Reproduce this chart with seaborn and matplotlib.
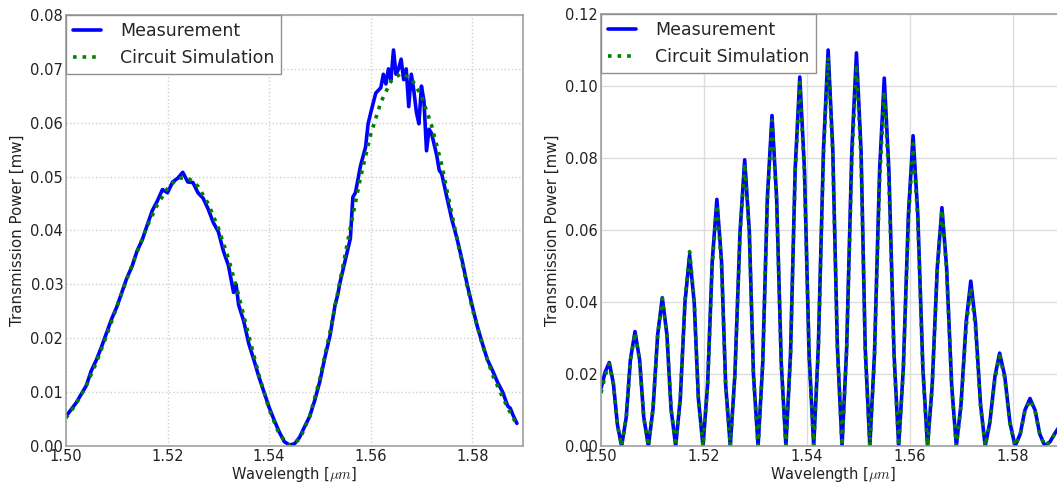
import matplotlib
matplotlib.use("Agg")
import matplotlib.pyplot as plt
import seaborn as sns

# left chart: measured curve (noisy) and circuit simulation
wl_left_meas = [
    1.500, 1.502, 1.504, 1.505, 1.506, 1.507, 1.508, 1.509, 1.510, 1.511,
    1.512, 1.513, 1.514, 1.515, 1.516, 1.517, 1.518, 1.519, 1.520, 1.521,
    1.522, 1.523, 1.524, 1.525, 1.526, 1.527, 1.528, 1.529, 1.530, 1.531,
    1.532, 1.533, 1.5335, 1.534, 1.535, 1.536, 1.537, 1.538, 1.539, 1.540,
    1.541, 1.542, 1.543, 1.544, 1.545, 1.546, 1.547, 1.548, 1.549, 1.550,
    1.551, 1.552, 1.553, 1.5535, 1.554, 1.555, 1.556, 1.5565, 1.557, 1.558,
    1.559, 1.5595, 1.560, 1.561, 1.562, 1.5625, 1.563, 1.5635, 1.564, 1.5645,
    1.565, 1.5655, 1.566, 1.5665, 1.567, 1.5675, 1.568, 1.5685, 1.569, 1.5695,
    1.570, 1.5705, 1.571, 1.5715, 1.572, 1.573, 1.5735, 1.574, 1.575, 1.576,
    1.577, 1.578, 1.579, 1.580, 1.581, 1.582, 1.583, 1.584, 1.585, 1.586,
    1.587, 1.5875, 1.588, 1.5888,
]
meas_left = [
    0.0055, 0.0080, 0.0112, 0.0140, 0.0160, 0.0184, 0.0210, 0.0236, 0.0258, 0.0285,
    0.0312, 0.0333, 0.0362, 0.0382, 0.0410, 0.0437, 0.0455, 0.0476, 0.0470, 0.0490,
    0.0497, 0.0508, 0.0490, 0.0489, 0.0470, 0.0460, 0.0440, 0.0415, 0.0398, 0.0362,
    0.0335, 0.0285, 0.0300, 0.0262, 0.0232, 0.0190, 0.0160, 0.0128, 0.0100, 0.0072,
    0.0048, 0.0026, 0.0008, 0.0002, 0.0004, 0.0016, 0.0036, 0.0055, 0.0085, 0.0120,
    0.0165, 0.0205, 0.0262, 0.0280, 0.0305, 0.0345, 0.0385, 0.0462, 0.0470, 0.0520,
    0.0555, 0.0598, 0.0618, 0.0655, 0.0665, 0.0690, 0.0672, 0.0700, 0.0680, 0.0735,
    0.0690, 0.0700, 0.0718, 0.0680, 0.0700, 0.0630, 0.0690, 0.0660, 0.0620, 0.0598,
    0.0668, 0.0640, 0.0548, 0.0588, 0.0580, 0.0540, 0.0512, 0.0505, 0.0462, 0.0420,
    0.0385, 0.0345, 0.0300, 0.0260, 0.0222, 0.0190, 0.0160, 0.0140, 0.0118, 0.0100,
    0.0074, 0.0070, 0.0058, 0.0042,
]
wl_left_sim = [
    1.500, 1.502, 1.504, 1.506, 1.508, 1.510, 1.512, 1.514, 1.516, 1.518,
    1.520, 1.522, 1.524, 1.526, 1.528, 1.530, 1.532, 1.534, 1.536, 1.538,
    1.540, 1.542, 1.544, 1.546, 1.548, 1.550, 1.552, 1.554, 1.556, 1.558,
    1.560, 1.562, 1.564, 1.566, 1.568, 1.570, 1.572, 1.574, 1.576, 1.578,
    1.580, 1.582, 1.584, 1.586, 1.588, 1.5888,
]
sim_left = [
    0.0052, 0.0078, 0.0112, 0.0155, 0.0205, 0.0258, 0.0310, 0.0360, 0.0408, 0.0448,
    0.0478, 0.0497, 0.0498, 0.0482, 0.0450, 0.0405, 0.0348, 0.0280, 0.0205, 0.0132,
    0.0068, 0.0022, 0.0001, 0.0012, 0.0055, 0.0125, 0.0212, 0.0308, 0.0405, 0.0498,
    0.0578, 0.0638, 0.0677, 0.0692, 0.0682, 0.0650, 0.0595, 0.0522, 0.0430, 0.0340,
    0.0255, 0.0188, 0.0132, 0.0090, 0.0052, 0.0042,
]

# right chart: fringes read at peaks, troughs and the points between
wl_right = [
    1.5000, 1.5008, 1.5016, 1.5024, 1.5032, 1.5040,
    1.5049, 1.5057, 1.5066, 1.5075, 1.5083, 1.5092,
    1.5101, 1.5110, 1.5119, 1.5128, 1.5136, 1.5145,
    1.5154, 1.5163, 1.5172, 1.5181, 1.5189, 1.5198,
    1.5207, 1.5216, 1.5225, 1.5234, 1.5242, 1.5251,
    1.5260, 1.5270, 1.5279, 1.5288, 1.5296, 1.5305,
    1.5314, 1.5323, 1.5332, 1.5341, 1.5350, 1.5359,
    1.5368, 1.5377, 1.5386, 1.5395, 1.5404, 1.5413,
    1.5422, 1.5432, 1.5441, 1.5450, 1.5459, 1.5468,
    1.5477, 1.5487, 1.5496, 1.5505, 1.5513, 1.5522,
    1.5531, 1.5541, 1.5550, 1.5559, 1.5569, 1.5578,
    1.5587, 1.5597, 1.5606, 1.5615, 1.5625, 1.5634,
    1.5643, 1.5653, 1.5662, 1.5671, 1.5681, 1.5690,
    1.5699, 1.5709, 1.5718, 1.5727, 1.5737, 1.5746,
    1.5755, 1.5765, 1.5774, 1.5784, 1.5794, 1.5804,
    1.5814, 1.5823, 1.5833, 1.5843, 1.5852, 1.5862,
    1.5872, 1.5880, 1.5888,
]
meas_right = [
    0.0160, 0.0205, 0.0232, 0.0174, 0.0058, 0.0000,
    0.0080, 0.0239, 0.0318, 0.0239, 0.0080, 0.0000,
    0.0103, 0.0309, 0.0412, 0.0309, 0.0103, 0.0000,
    0.0133, 0.0398, 0.0530, 0.0398, 0.0133, 0.0000,
    0.0171, 0.0514, 0.0685, 0.0514, 0.0171, 0.0000,
    0.0199, 0.0596, 0.0795, 0.0596, 0.0199, 0.0000,
    0.0230, 0.0689, 0.0918, 0.0689, 0.0230, 0.0000,
    0.0256, 0.0769, 0.1025, 0.0769, 0.0256, 0.0000,
    0.0275, 0.0825, 0.1100, 0.0825, 0.0275, 0.0000,
    0.0273, 0.0819, 0.1092, 0.0819, 0.0273, 0.0000,
    0.0256, 0.0767, 0.1022, 0.0767, 0.0256, 0.0000,
    0.0216, 0.0647, 0.0862, 0.0647, 0.0216, 0.0000,
    0.0166, 0.0497, 0.0662, 0.0497, 0.0166, 0.0000,
    0.0115, 0.0344, 0.0458, 0.0344, 0.0115, 0.0000,
    0.0065, 0.0194, 0.0258, 0.0194, 0.0065, 0.0000,
    0.0033, 0.0099, 0.0132, 0.0099, 0.0033, 0.0000,
    0.0012, 0.0032, 0.0050,
]
sim_right = [
    0.0147, 0.0195, 0.0228, 0.0171, 0.0057, 0.0000,
    0.0079, 0.0236, 0.0315, 0.0236, 0.0079, 0.0000,
    0.0103, 0.0308, 0.0410, 0.0308, 0.0103, 0.0000,
    0.0135, 0.0405, 0.0540, 0.0405, 0.0135, 0.0000,
    0.0168, 0.0503, 0.0670, 0.0503, 0.0168, 0.0000,
    0.0196, 0.0589, 0.0785, 0.0589, 0.0196, 0.0000,
    0.0226, 0.0679, 0.0905, 0.0679, 0.0226, 0.0000,
    0.0253, 0.0758, 0.1010, 0.0758, 0.0253, 0.0000,
    0.0270, 0.0810, 0.1080, 0.0810, 0.0270, 0.0000,
    0.0265, 0.0795, 0.1060, 0.0795, 0.0265, 0.0000,
    0.0246, 0.0739, 0.0985, 0.0739, 0.0246, 0.0000,
    0.0210, 0.0630, 0.0840, 0.0630, 0.0210, 0.0000,
    0.0164, 0.0491, 0.0655, 0.0491, 0.0164, 0.0000,
    0.0110, 0.0330, 0.0440, 0.0330, 0.0110, 0.0000,
    0.0063, 0.0188, 0.0250, 0.0188, 0.0063, 0.0000,
    0.0032, 0.0096, 0.0128, 0.0096, 0.0032, 0.0000,
    0.0012, 0.0031, 0.0048,
]

x_ticks = [1.50, 1.52, 1.54, 1.56, 1.58]
y_ticks_left = [0.00, 0.01, 0.02, 0.03, 0.04, 0.05, 0.06, 0.07, 0.08]
y_ticks_right = [0.00, 0.02, 0.04, 0.06, 0.08, 0.10, 0.12]

sns.set_style("whitegrid")
plt.rcParams["font.family"] = ["DejaVu Sans"]
plt.rcParams["mathtext.fontset"] = "cm"
plt.rcParams["axes.edgecolor"] = "#a0a0a0"
plt.rcParams["axes.linewidth"] = 1.2
plt.rcParams["xtick.direction"] = "in"
plt.rcParams["ytick.direction"] = "in"

fig = plt.figure(figsize=(10.57, 4.87), dpi=100)
ax1 = fig.add_axes([0.0624, 0.0842, 0.4324, 0.885])
ax2 = fig.add_axes([0.5686, 0.0842, 0.4385, 0.887])

panels = [
    (ax1, wl_left_meas, meas_left, wl_left_sim, sim_left, y_ticks_left, (0, 0.08), ":", "#cfcfcf"),
    (ax2, wl_right, meas_right, wl_right, sim_right, y_ticks_right, (0, 0.12), "-", "#dddddd"),
]

for ax, xm, ym, xs, ys, yt, ylim, gstyle, gcolor in panels:
    sns.lineplot(x=xm, y=ym, ax=ax, color="blue", lw=2.6, label="Measurement", sort=False)
    sns.lineplot(x=xs, y=ys, ax=ax, color="green", lw=2.6, linestyle=":", label="Circuit Simulation", sort=False)
    ax.set_xlim(1.50, 1.59)
    ax.set_ylim(*ylim)
    ax.set_xticks(x_ticks)
    ax.set_xticklabels([f"{v:.2f}" for v in x_ticks])
    ax.set_yticks(yt)
    ax.set_yticklabels([f"{v:.2f}" for v in yt])
    ax.tick_params(labelsize=10.5, colors="#222222", length=4, color="#a0a0a0", pad=2)
    ax.grid(True, linestyle=gstyle, color=gcolor, lw=1)
    ax.set_xlabel(r"Wavelength [$\mu m$]", fontsize=10.5, color="#222222", labelpad=1)
    ax.set_ylabel("Transmission Power [mw]", fontsize=10.8, color="#222222", labelpad=4)
    leg = ax.legend(loc="upper left", borderaxespad=0, fontsize=12.5, fancybox=False,
                    framealpha=1, edgecolor="#909090", handlelength=1.6, handletextpad=1.1)
    leg.get_frame().set_linewidth(1.0)

fig.savefig("out.png", dpi=100)
